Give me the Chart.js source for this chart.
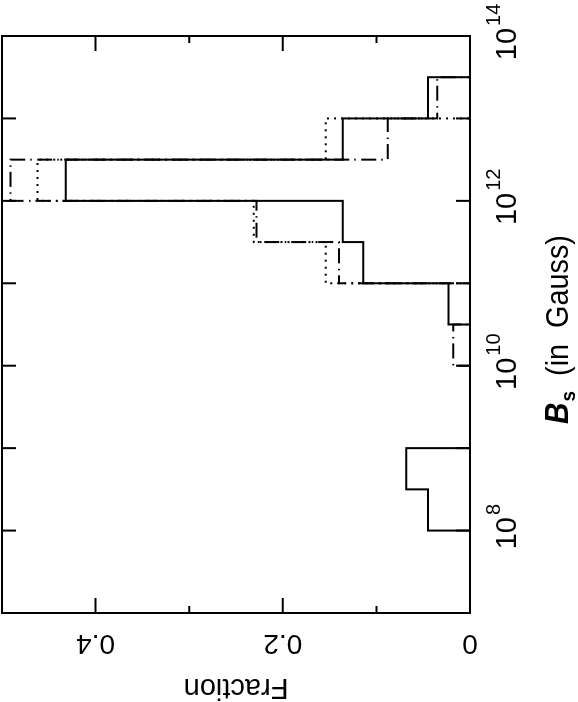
<!DOCTYPE html>
<html>
<head>
<meta charset="utf-8">
<script src="https://cdn.jsdelivr.net/npm/chart.js@4.4.0/dist/chart.umd.min.js"></script>
<style>
html, body { margin: 0; padding: 0; background: #fff; overflow: hidden; }
/* the figure is drawn upright and then turned a quarter turn to the left */
#wrap { position: absolute; left: 0; top: 0; width: 702px; height: 578px;
        transform-origin: 0 0; transform: translate(0, 702px) rotate(-90deg); }
</style>
</head>
<body>
<div id="wrap"><canvas id="Chart" width="702" height="578"></canvas></div>
<script>
// bin edges in log10(B / Gauss), 0.5 dex wide
const binEdges = [8.0, 8.5, 9.0, 9.5, 10.0, 10.5, 11.0, 11.5, 12.0, 12.5, 13.0, 13.5];
// fraction per bin (one value per bin, 11 bins)
const solidFrac   = [0.045, 0.068, 0, 0, 0, 0.023, 0.114, 0.136, 0.432, 0.136, 0.045];
const dashDotFrac = [0, 0, 0, 0, 0.018, 0, 0.140, 0.228, 0.491, 0.088, 0.035];
const dottedFrac  = [0, 0, 0, 0, 0, 0, 0.154, 0.231, 0.462, 0.154, 0];

const xTicks  = [8, 9, 10, 11, 12, 13];
const xLabels = [8, 10, 12, 14];
const yMinor  = [0.1, 0.3];
const yMajor  = [0.2, 0.4];
const yLabels = [[0, "0"], [0.2, "0.2"], [0.4, "0.4"]];

const FONT = "'Liberation Sans', Arial, Helvetica, sans-serif";

function steps(frac)
{
    let pts = [{x: binEdges[0], y: 0}];
    for (let i = 0; i < frac.length; i++)
        pts.push({x: binEdges[i], y: frac[i]});
    pts.push({x: binEdges[binEdges.length - 1], y: 0});
    return pts;
}

const framePlugin = {
    id: "frame",
    afterDatasetsDraw(chart)
    {
        const ctx = chart.ctx;
        const a = chart.chartArea;
        const xs = chart.scales.x, ys = chart.scales.y;
        ctx.save();
        ctx.strokeStyle = "#000";
        ctx.fillStyle = "#000";
        ctx.lineWidth = 2;
        ctx.strokeRect(a.left, a.top, a.right - a.left, a.bottom - a.top);

        ctx.beginPath();
        xTicks.forEach(v => {
            const px = xs.getPixelForValue(v);
            ctx.moveTo(px, a.bottom); ctx.lineTo(px, a.bottom - 14);
            ctx.moveTo(px, a.top);    ctx.lineTo(px, a.top + 14);
        });
        yMajor.forEach(v => {
            const py = ys.getPixelForValue(v);
            ctx.moveTo(a.left, py);  ctx.lineTo(a.left + 15, py);
            ctx.moveTo(a.right, py); ctx.lineTo(a.right - 15, py);
        });
        yMinor.forEach(v => {
            const py = ys.getPixelForValue(v);
            ctx.moveTo(a.left, py);  ctx.lineTo(a.left + 7, py);
            ctx.moveTo(a.right, py); ctx.lineTo(a.right - 7, py);
        });
        ctx.stroke();

        // x tick labels 10^n
        ctx.textBaseline = "alphabetic";
        ctx.textAlign = "left";
        xLabels.forEach(e => {
            const px = xs.getPixelForValue(e);
            ctx.font = "29px " + FONT;
            const wb = ctx.measureText("10").width;
            ctx.font = "20px " + FONT;
            const ws = ctx.measureText(String(e)).width;
            const x0 = px - (wb + ws + 2) / 2 + 4;
            ctx.font = "29px " + FONT;
            ctx.fillText("10", x0, a.bottom + 46);
            ctx.font = "20px " + FONT;
            ctx.fillText(String(e), x0 + wb + 2, a.bottom + 30);
        });

        // y tick labels, written along the axis
        ctx.font = "28px " + FONT;
        ctx.textAlign = "center";
        yLabels.forEach(([v, t]) => {
            const py = ys.getPixelForValue(v);
            ctx.save();
            ctx.translate(a.left - 22, py);
            ctx.rotate(-Math.PI / 2);
            ctx.fillText(t, 0, 0);
            ctx.restore();
        });

        // y title
        ctx.save();
        ctx.font = "29px " + FONT;
        ctx.translate(23, (a.top + a.bottom) / 2);
        ctx.rotate(-Math.PI / 2);
        ctx.fillText("Fraction", 0, 0);
        ctx.restore();

        // x title: B_s (in Gauss), slightly narrow letters like the original
        ctx.textAlign = "left";
        const fB = "italic bold 33px " + FONT;
        const fS = "bold 21px " + FONT;
        const fT = "32px " + FONT;
        const rest = "  (in  Gauss)";
        const sx = 0.9;
        ctx.font = fB; const wB = ctx.measureText("B").width;
        ctx.font = fS; const wS = ctx.measureText("s").width;
        ctx.font = fT; const wT = ctx.measureText(rest).width;
        const base = a.bottom + 98;
        ctx.save();
        ctx.translate((a.left + a.right) / 2 - sx * (wB + wS + wT) / 2 - 5, base);
        ctx.scale(sx, 1);
        ctx.font = fB; ctx.fillText("B", 0, 0);
        ctx.font = fS; ctx.fillText("s", wB + 1, 7);
        ctx.font = fT; ctx.fillText(rest, wB + wS, 0);
        ctx.restore();
        ctx.restore();
    }
};

const ctx = document.getElementById("Chart");
const myChart = new Chart(ctx, {
    type: "line",
    data: {
        datasets: [
            { label: "solid", data: steps(solidFrac), borderColor: "#000", borderWidth: 2 },
            { label: "dash-dot", data: steps(dashDotFrac), borderColor: "#000", borderWidth: 2, borderDash: [15, 5, 1.5, 5.5] },
            { label: "dotted", data: steps(dottedFrac), borderColor: "#000", borderWidth: 2, borderDash: [2, 5] },
        ],
    },
    options: {
        responsive: false,
        animation: false,
        events: [],
        datasets: {
            line: { stepped: true, fill: false, pointRadius: 0, tension: 0 }
        },
        layout: { padding: { left: 89, right: 36, top: 2, bottom: 108 } },
        plugins: { legend: { display: false }, tooltip: { enabled: false } },
        scales: {
            x: { type: "linear", min: 7, max: 14, display: false },
            y: { type: "linear", min: 0, max: 0.5, display: false }
        }
    },
    plugins: [framePlugin]
});
</script>
</body>
</html>
